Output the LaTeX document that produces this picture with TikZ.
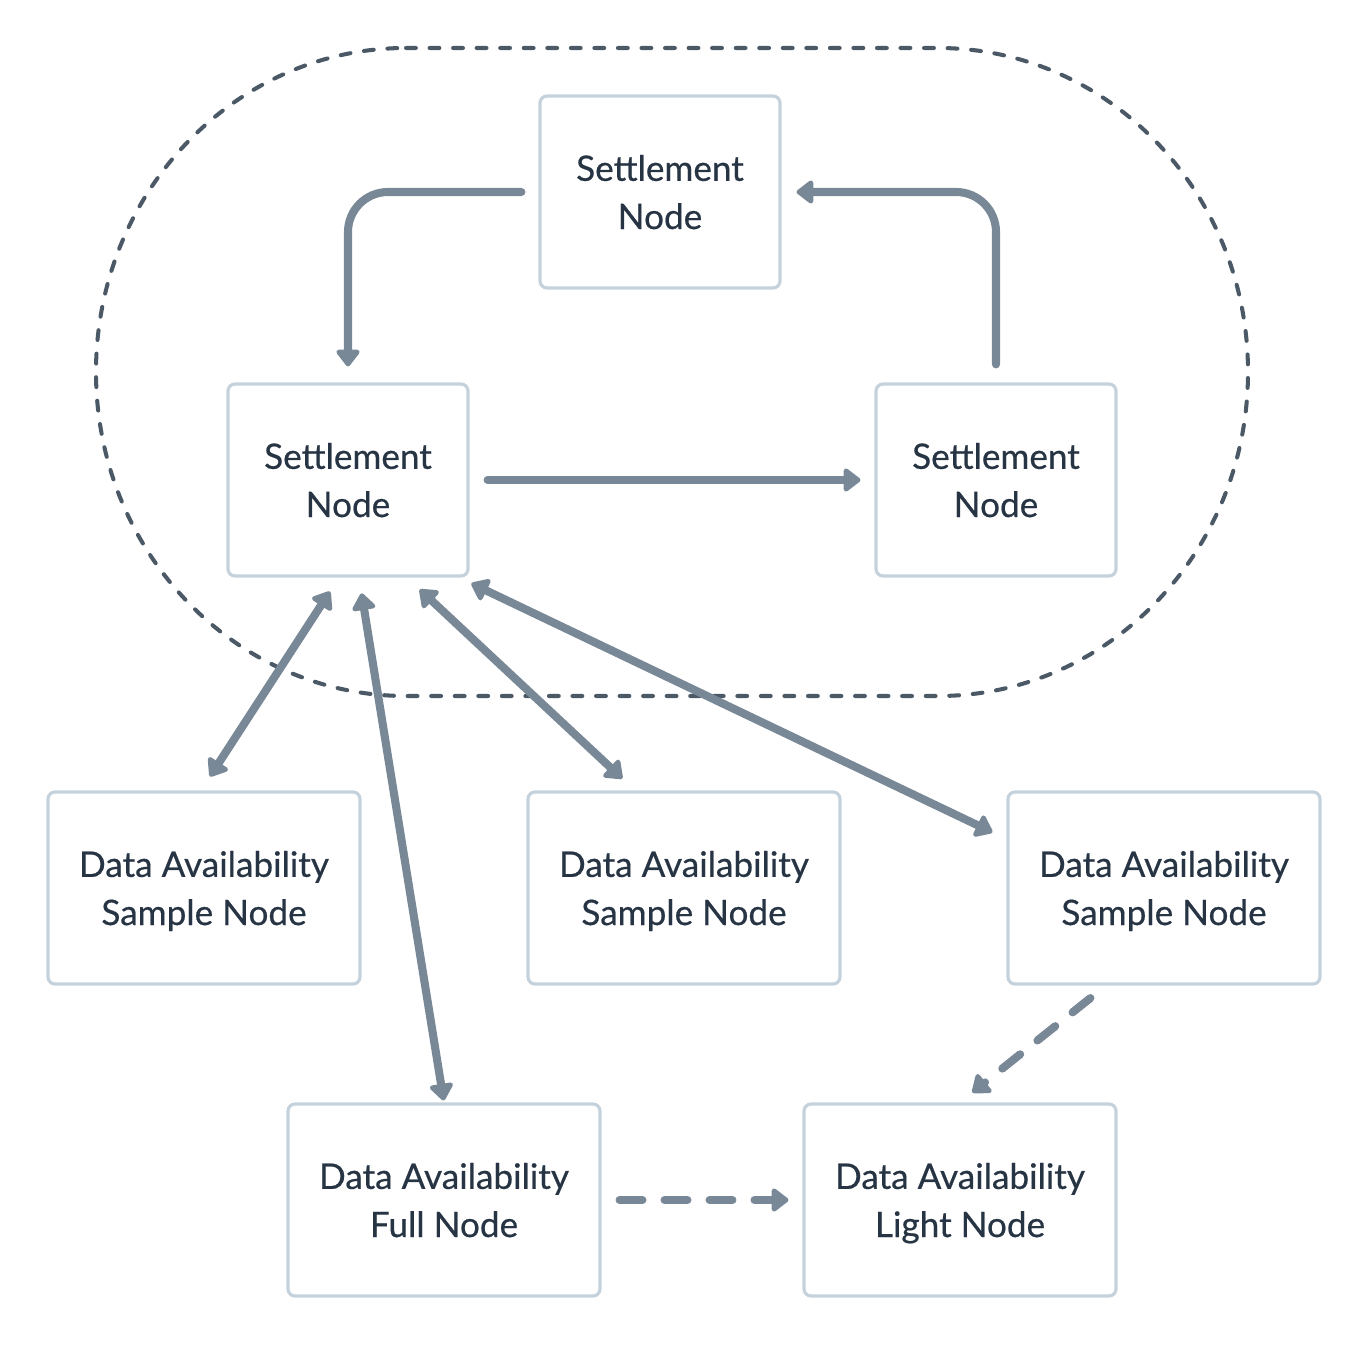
\documentclass[tikz,border=0pt]{standalone}
\usepackage{fontspec}
\setmainfont{Lato}[FakeBold=0.5]
\setsansfont{Lato}[FakeBold=0.5]
\usepackage{tikz}
\usetikzlibrary{arrows.meta, positioning, calc}
\definecolor{boxLine}{HTML}{C5D2DC}
\definecolor{linkColor}{HTML}{798896}
\definecolor{ringColor}{HTML}{4B5967}
\definecolor{labelColor}{HTML}{263444}

\begin{document}
\begin{tikzpicture}[font=\sffamily\fontsize{10}{13.7}\selectfont, >={Triangle[length=5.2pt, width=7.6pt, round]},
        settleBox/.style={draw=boxLine, line width=0.9pt, rounded corners=2pt, minimum width=2.4cm, minimum height=1.92cm, align=center, text=labelColor, inner sep=0pt,
            text depth=0pt},
        daBox/.style={settleBox, minimum width=3.12cm},
        link/.style={->, line width=2.3pt, linkColor, line cap=round},
        dlink/.style={link, <->},
        weak/.style={link, dash pattern=on 6.5pt off 6.3pt},
        ring/.style={draw=ringColor, line width=1.15pt, line cap=round, dash pattern=on 2.8pt off 3.9pt}]
        \useasboundingbox (0,0) rectangle (13.68,13.44);

        % Settlement layer (dashed ring)
        \draw[ring] (4.06,12.96) -- (9.38,12.96)
            arc[start angle=90, end angle=0, x radius=3.10, y radius=3.24]
            arc[start angle=0, end angle=-90, x radius=3.10, y radius=3.24]
            -- (4.06,6.48)
            arc[start angle=270, end angle=180, x radius=3.10, y radius=3.24]
            arc[start angle=180, end angle=90, x radius=3.10, y radius=3.24] -- cycle;

        % Settlement nodes
        \node[settleBox] (setTop) at (6.60,11.52) {Settlement\\Node};
        \node[settleBox] (setLeft) at (3.48,8.64) {Settlement\\Node};
        \node[settleBox] (setRight) at (9.96,8.64) {Settlement\\Node};

        % Data availability nodes
        \node[daBox] (daA) at (2.04,4.56) {Data Availability\\Sample Node};
        \node[daBox] (daB) at (6.84,4.56) {Data Availability\\Sample Node};
        \node[daBox] (daC) at (11.64,4.56) {Data Availability\\Sample Node};
        \node[daBox] (daFull) at (4.44,1.44) {Data Availability\\Full Node};
        \node[daBox] (daLight) at (9.60,1.44) {Data Availability\\Light Node};

        % Settlement cycle
        \draw[link, rounded corners=0.4cm, shorten <=0.17cm, shorten >=0.16cm] (setTop.west) -| (setLeft.north);
        \draw[link, shorten <=0.18cm, shorten >=0.14cm] (setLeft.east) -- (setRight.west);
        \draw[link, rounded corners=0.4cm, shorten <=0.18cm, shorten >=0.15cm] (setRight.north) |- (setTop.east);

        % Settlement <-> data availability
        \draw[dlink, shorten <=0.166cm, shorten >=0.166cm] ([xshift=-0.09cm]setLeft.south) -- ([xshift=-0.03cm]daA.north);
        \draw[dlink, shorten <=0.16cm, shorten >=0.02cm] ([xshift=0.11cm]setLeft.south) -- (daFull.north);
        \draw[dlink, shorten <=0.174cm, shorten >=0.174cm] ([xshift=0.59cm]setLeft.south) -- ([xshift=-0.49cm]daB.north);
        \draw[dlink, shorten <=0.02cm, shorten >=0.155cm] ([yshift=-0.05cm]setLeft.south east) -- ([yshift=0.49cm]daC.west);

        % Light node links
        \draw[weak, shorten <=0.2cm, shorten >=0.158cm] ([xshift=-0.58cm]daC.south) -- (daLight.north);
        \draw[weak, shorten <=0.18cm, shorten >=0.14cm] (daFull.east) -- (daLight.west);
    \end{tikzpicture}
\end{document}
